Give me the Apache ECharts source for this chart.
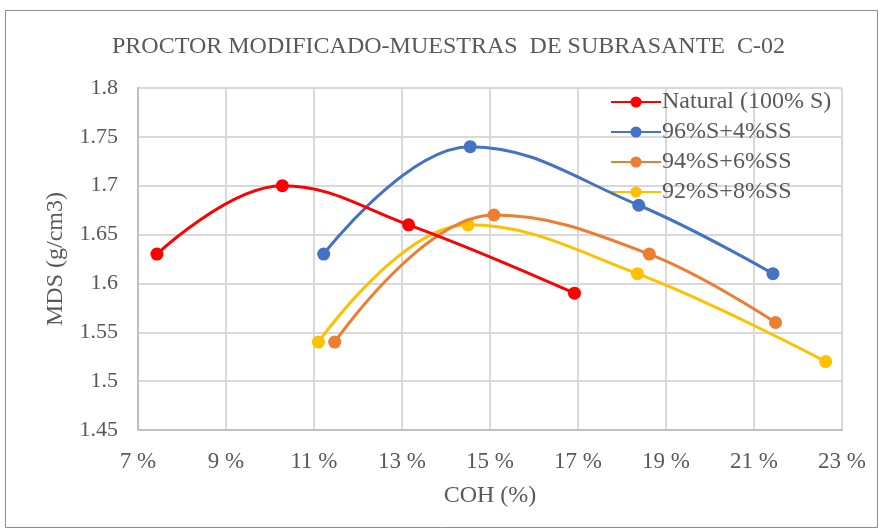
<!DOCTYPE html>
<html><head><meta charset="utf-8">
<script src="https://cdn.jsdelivr.net/npm/echarts@6/dist/echarts.min.js"></script>
<style>html,body{margin:0;padding:0;background:#fff}#c{width:879px;height:530px}</style>
</head><body><div id="c"></div>
<script>
const seriesNames = ['Natural (100% S)', '96%S+4%SS', '94%S+6%SS', '92%S+8%SS'];
const naturalX = [7.43, 10.28, 13.15, 16.92];
const naturalY = [1.63, 1.70, 1.66, 1.59];
const s96X = [11.22, 14.55, 18.38, 21.43];
const s96Y = [1.63, 1.74, 1.68, 1.61];
const s94X = [11.47, 15.09, 18.62, 21.49];
const s94Y = [1.54, 1.67, 1.63, 1.56];
const s92X = [11.1, 14.5, 18.35, 22.63];
const s92Y = [1.54, 1.66, 1.61, 1.52];
const colors = ['#FF0000', '#4472C4', '#ED7D31', '#FFC000'];
const xs = [naturalX, s96X, s94X, s92X];
const ys = [naturalY, s96Y, s94Y, s92Y];
const font = '"Liberation Serif", "Times New Roman", serif';
const txt = '#595959';

const chart = echarts.init(document.getElementById('c'), null, {renderer: 'canvas'});
chart.setOption({
  animation: false,
  backgroundColor: '#fff',
  graphic: [{type: 'rect', shape: {x: 5.5, y: 10.5, width: 872, height: 517}, style: {fill: 'none', stroke: '#8c8c8c', lineWidth: 1}, z: -1}],
  title: {text: 'PROCTOR MODIFICADO-MUESTRAS  DE SUBRASANTE  C-02', left: 107, top: 30,
    textStyle: {fontFamily: font, fontSize: 24, fontWeight: 'normal', color: txt}},
  grid: {left: 138, right: 37, top: 88, bottom: 100, containLabel: false},
  legend: {orient: 'vertical', left: 605, top: 85, itemWidth: 50, itemHeight: 14, itemGap: 6,
    textStyle: {fontFamily: font, fontSize: 24, color: txt, padding: [0, 0, 0, -4]},
    data: seriesNames},
  xAxis: {type: 'value', min: 7, max: 23, interval: 2,
    name: 'COH (%)', nameLocation: 'middle', nameGap: 54,
    nameTextStyle: {fontFamily: font, fontSize: 24, color: txt},
    axisLine: {show: true, lineStyle: {color: '#bfbfbf', width: 2}},
    axisTick: {show: false},
    axisLabel: {formatter: v => v + ' %', fontFamily: font, fontSize: 23, color: txt, margin: 20},
    splitLine: {show: true, lineStyle: {color: '#d9d9d9', width: 2}}},
  yAxis: {type: 'value', min: 1.45, max: 1.8, interval: 0.05,
    name: 'MDS (g/cm3)', nameLocation: 'middle', nameGap: 70,
    nameTextStyle: {fontFamily: font, fontSize: 24, color: txt},
    axisLine: {show: true, lineStyle: {color: '#bfbfbf', width: 2}},
    axisTick: {show: false},
    axisLabel: {formatter: v => String(+v.toFixed(2)), fontFamily: font, fontSize: 22, color: txt, margin: 20},
    splitLine: {show: true, lineStyle: {color: '#d9d9d9', width: 2}}},
  series: seriesNames.map((n, i) => ({
    name: n, type: 'line', smooth: 0.4,
    data: xs[i].map((x, j) => [x, ys[i][j]]),
    symbol: 'circle', symbolSize: 13,
    lineStyle: {color: colors[i], width: 3},
    itemStyle: {color: colors[i]},
    z: 10 - i
  }))
});
</script></body></html>
